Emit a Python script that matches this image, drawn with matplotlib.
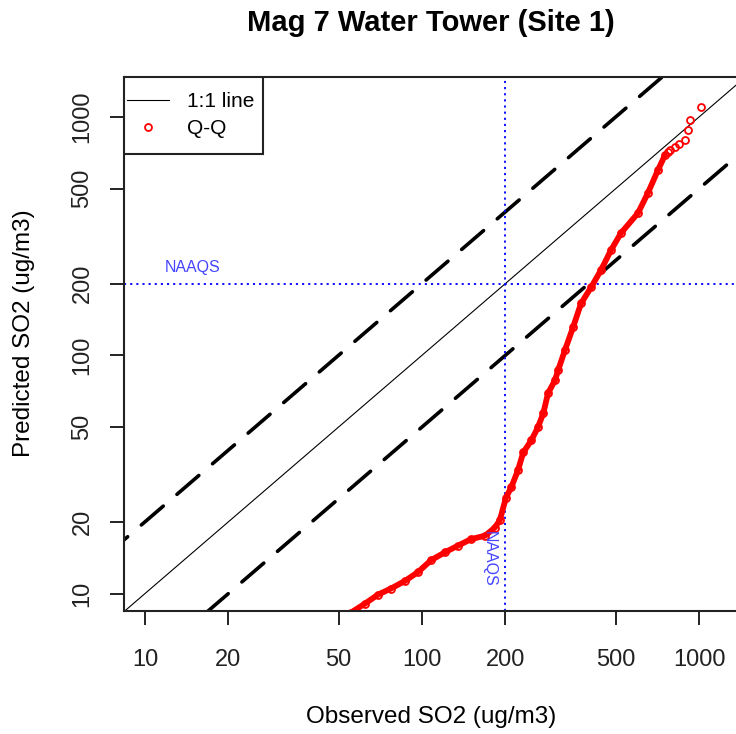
import matplotlib.pyplot as plt
import numpy as np
from matplotlib.patches import Rectangle
from matplotlib.ticker import FixedLocator, NullLocator

plt.rcParams['font.family'] = ['Liberation Sans', 'DejaVu Sans']

# Q-Q quantiles (observed, predicted), dense band
obs_q = [55.4, 62.3, 69.4, 77.3, 86.8, 96.7, 107.8, 121, 135, 150, 169, 183,
         191, 201, 210, 222, 232, 248, 262, 274, 285, 302, 310, 328, 351, 375,
         408, 443, 481, 523, 602, 654, 711, 754]
pred_q = [8.32, 9.08, 9.9, 10.5, 11.3, 12.3, 13.8, 14.9, 15.9, 16.9, 17.5, 18.9,
          20.3, 25.3, 27.9, 32.9, 39.1, 43.9, 49.8, 57.0, 69.2, 78.5, 86.5, 105,
          131, 165, 193, 228, 276, 326, 395, 480, 599, 693]
# sparse top end of the Q-Q points
obs_top = [770, 786, 820, 850, 890, 912, 929, 1017]
pred_top = [715, 727, 745, 770, 800, 882, 971, 1102]

naaqs = 200
ratios = [0.5, 2.0]
xticks = [10, 20, 50, 100, 200, 500, 1000]
yticks = [10, 20, 50, 100, 200, 500, 1000]

fig = plt.figure(figsize=(7.36, 7.34), dpi=100)
ax = fig.add_axes([124 / 736, 123 / 734, 676 / 736, 534 / 734])
ax.set_xscale('log')
ax.set_yscale('log')
ax.set_xlim(8.40, 2315)
ax.set_ylim(8.45, 1472)

xs = np.array([1, 100000])
ax.plot(xs, xs, color='black', lw=0.8, label='1:1 line')
for r in ratios:
    ax.plot(xs, xs * r, color='black', lw=2.6, dashes=(8, 5), dash_capstyle='round')

ax.axvline(naaqs, color='#0000ff', lw=1.3, linestyle=(0, (1.2, 2.2)))
ax.axhline(naaqs, color='#0000ff', lw=1.3, linestyle=(0, (1.2, 2.2)))
ax.text(14.8, 234, 'NAAQS', color='#4444ff', fontsize=11.5, ha='center', va='center')
ax.text(175, 14.0, 'NAAQS', color='#4444ff', fontsize=11.5, ha='center', va='center',
        rotation=270)

ax.plot(obs_q, pred_q, color='red', lw=4.2, solid_capstyle='round')
ax.plot(obs_q, pred_q, 'o', mfc='none', mec='red', ms=5, mew=1.3, label='Q-Q')
ax.plot(obs_top, pred_top, 'o', mfc='none', mec='red', ms=5, mew=1.3)

ax.xaxis.set_major_locator(FixedLocator(xticks))
ax.yaxis.set_major_locator(FixedLocator(yticks))
ax.xaxis.set_minor_locator(NullLocator())
ax.yaxis.set_minor_locator(NullLocator())
ax.set_xticklabels([str(t) for t in xticks])
ax.set_yticklabels([str(t) for t in yticks], rotation=90, va='center')
ax.tick_params(length=10, width=1.4, labelsize=17, colors='#222222')
ax.tick_params(axis='x', pad=17)
ax.tick_params(axis='y', pad=12)
for s in ax.spines.values():
    s.set_linewidth(1.5)
    s.set_color('#222222')
ax.spines['right'].set_visible(False)

ax.set_xlabel('Observed SO2 (ug/m3)', fontsize=17.5, va='center')
ax.xaxis.set_label_coords(307 / 676, -106 / 534)
ax.set_ylabel('Predicted SO2 (ug/m3)', fontsize=17.5, va='center')
ax.yaxis.set_label_coords(-100 / 676, 278 / 534)
fig.text(431 / 736, 1 - 23 / 734, 'Mag 7 Water Tower (Site 1)', fontsize=21,
         fontweight='bold', ha='center', va='center')

# legend box like R's: tight left, roomy top and bottom
box = Rectangle((0, 1 - 77 / 534), 139 / 676, 77 / 534, transform=ax.transAxes,
                facecolor='white', edgecolor='#222222', lw=1.5, zorder=4)
ax.add_patch(box)
leg = ax.legend(loc='upper left', bbox_to_anchor=(3 / 676, 1 - 15 / 534),
                borderaxespad=0, borderpad=0, frameon=False, fontsize=15,
                handlelength=2.0, handletextpad=0.9, labelspacing=0.4)
leg.set_zorder(5)

fig.savefig('out.png', dpi=100)
